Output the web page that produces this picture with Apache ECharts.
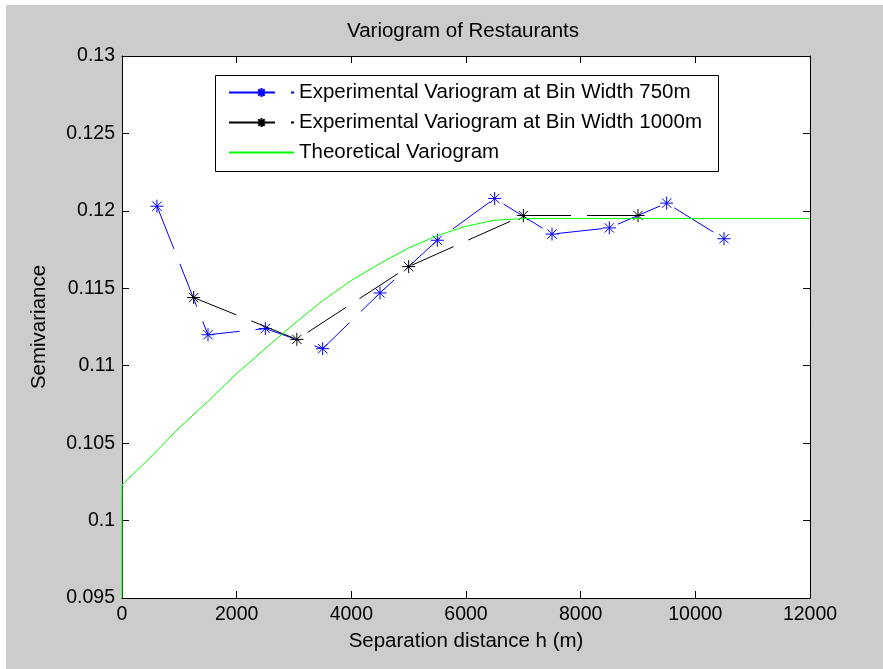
<!DOCTYPE html>
<html>
<head>
<meta charset="utf-8">
<script src="https://cdn.jsdelivr.net/npm/echarts@6/dist/echarts.min.js"></script>
<style>
html,body{margin:0;padding:0;background:#fff;}
#c{width:883px;height:669px;}
</style>
</head>
<body>
<div id="c"></div>
<script>
// Experimental variogram, bin width 750 m
const blueX = [610, 1500, 2500, 3500, 4500, 5500, 6500, 7500, 8500, 9500, 10500];
const blueY = [0.1203, 0.1120, 0.1124, 0.1111, 0.1147, 0.1181, 0.1208, 0.1185, 0.1189, 0.1205, 0.1182];
// Experimental variogram, bin width 1000 m
const blackX = [1250, 3050, 5000, 7000, 9000];
const blackY = [0.1144, 0.1117, 0.1164, 0.1197, 0.1197];
// Theoretical variogram
const theoX = [0, 1, 500, 1000, 1500, 2000, 2500, 3000, 3500, 4000, 4500, 5000, 5500, 6000, 6500, 7000, 12000];
const theoY = [0.095, 0.1023, 0.1041, 0.1060, 0.1077, 0.1095, 0.1111, 0.1127, 0.1142, 0.1155, 0.1166, 0.1176, 0.1184, 0.1190, 0.1194, 0.1195, 0.1195];

const titleText = 'Variogram of Restaurants';
const xName = 'Separation distance h (m)';
const yName = 'Semivariance';
const seriesNames = ['Experimental Variogram at Bin Width 750m', 'Experimental Variogram at Bin Width 1000m', 'Theoretical Variogram'];

const zip = (xs, ys) => xs.map((x, i) => [x, ys[i]]);
const FONT = 'Liberation Sans, Arial, sans-serif';
const star = 'path://M0,-1L0,1M-1,0L1,0M-0.72,-0.72L0.72,0.72M-0.72,0.72L0.72,-0.72';

const chart = echarts.init(document.getElementById('c'), null, {renderer: 'canvas'});
const axCommon = {
  type: 'value',
  axisLine: {show: true, onZero: false, lineStyle: {color: '#000', width: 1}},
  axisTick: {show: true, inside: true, length: 7, lineStyle: {color: '#000'}},
  splitLine: {show: false}
};
chart.setOption({
  backgroundColor: '#cccccc',
  animation: false,
  textStyle: {fontFamily: FONT},
  title: {
    text: titleText, left: 347, top: 21, padding: 0,
    textStyle: {fontSize: 20.5, fontWeight: 'normal', color: '#000', fontFamily: FONT}
  },
  grid: {left: 122, top: 56, right: 73, bottom: 71, show: true, backgroundColor: '#fff', borderWidth: 0},
  xAxis: [
    Object.assign({}, axCommon, {
      min: 0, max: 12000, interval: 2000, position: 'bottom',
      name: xName, nameLocation: 'middle', nameGap: 33,
      nameTextStyle: {fontSize: 20.5, color: '#000', fontFamily: FONT},
      axisLabel: {fontSize: 19.5, color: '#000', margin: 7, fontFamily: FONT,
        formatter: v => String(v)}
    }),
    Object.assign({}, axCommon, {
      min: 0, max: 12000, interval: 2000, position: 'top',
      axisLabel: {show: false}
    })
  ],
  yAxis: [
    Object.assign({}, axCommon, {
      min: 0.095, max: 0.13, interval: 0.005, position: 'left',
      name: yName, nameLocation: 'middle', nameGap: 72,
      nameTextStyle: {fontSize: 20.5, color: '#000', fontFamily: FONT},
      axisLabel: {fontSize: 19.5, color: '#000', margin: 7, fontFamily: FONT,
        formatter: v => String(parseFloat(v.toFixed(3)))}
    }),
    Object.assign({}, axCommon, {
      min: 0.095, max: 0.13, interval: 0.005, position: 'right',
      axisLabel: {show: false}
    })
  ],
  legend: {
    orient: 'vertical', left: 228, top: 82, padding: 0, z: 20,
    itemWidth: 65, itemHeight: 11, itemGap: 9,
    textStyle: {fontSize: 20.5, lineHeight: 21, color: '#000', fontFamily: FONT},
    data: [
      {name: seriesNames[0]},
      {name: seriesNames[1]},
      {name: seriesNames[2], itemStyle: {opacity: 0}}
    ]
  },
  graphic: [
    {type: 'rect', z: 15, shape: {x: 0, y: 0, width: 883, height: 5}, style: {fill: '#fff'}},
    {type: 'rect', z: 15, shape: {x: 0, y: 0, width: 6, height: 669}, style: {fill: '#fff'}},
    {type: 'rect', z: 15, shape: {x: 215.5, y: 75.5, width: 503, height: 96}, style: {fill: '#fff', stroke: '#000', lineWidth: 1}}
  ],
  series: [
    {
      name: seriesNames[0], type: 'line', data: zip(blueX, blueY),
      symbol: star, symbolSize: 13,
      itemStyle: {color: '#0000ff', borderColor: '#0000ff', borderWidth: 1},
      lineStyle: {color: '#0000ff', width: 1, type: [46, 16]},
      z: 3
    },
    {
      name: seriesNames[1], type: 'line', data: zip(blackX, blackY),
      symbol: star, symbolSize: 13,
      itemStyle: {color: '#000', borderColor: '#000', borderWidth: 1},
      lineStyle: {color: '#000', width: 1, type: [46, 16]},
      z: 4
    },
    {
      name: seriesNames[2], type: 'line', data: zip(theoX, theoY),
      symbol: 'none', showSymbol: false,
      itemStyle: {color: '#00ff00'},
      lineStyle: {color: '#00ff00', width: 1},
      z: 5
    }
  ]
});
</script>
</body>
</html>
